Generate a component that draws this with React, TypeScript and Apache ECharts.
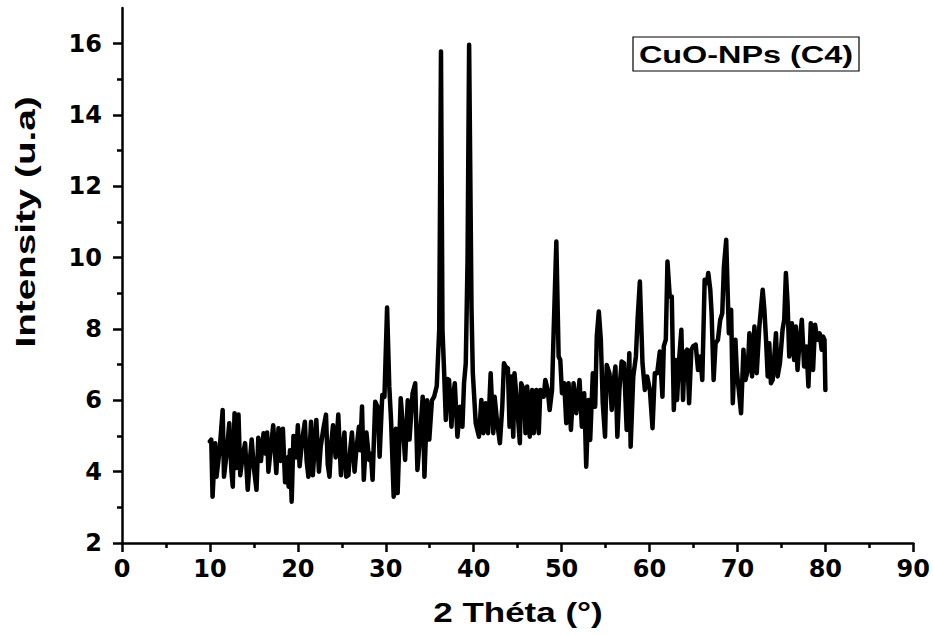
import React, { useEffect, useRef } from "react";
import * as echarts from "echarts";

const twoTheta = [
  10.0, 10.15, 10.3, 10.6, 10.75, 11.1, 11.45, 11.6, 11.9, 12.2, 12.45, 12.6, 12.8, 13.0, 13.25, 13.45, 13.7, 14.0, 14.3, 14.5,
  14.75, 15.0, 15.3, 15.5, 15.8, 16.1, 16.35, 16.5, 16.65, 16.9, 17.2, 17.55, 17.8, 18.0, 18.3, 18.55, 18.8, 18.95, 19.1, 19.3,
  19.5, 19.8, 20.0, 20.2, 20.5, 20.8, 21.0, 21.2, 21.5, 21.7, 21.9, 22.1, 22.4, 22.6, 22.9, 23.2, 23.4, 23.6, 23.8, 24.0,
  24.3, 24.6, 24.9, 25.1, 25.3, 25.5, 25.75, 25.95, 26.15, 26.45, 26.65, 26.95, 27.1, 27.3, 27.5, 27.8, 28.1, 28.3, 28.5, 28.8,
  29.1, 29.3, 29.6, 29.85, 30.15, 30.4, 30.6, 30.9, 31.15, 31.35, 31.7, 32.0, 32.2, 32.5, 32.7, 33.05, 33.35, 33.6, 33.9, 34.2,
  34.4, 34.7, 34.95, 35.25, 35.5, 35.8, 36.08, 36.28, 36.45, 36.64, 36.83, 37.0, 37.2, 37.47, 37.6, 37.85, 38.15, 38.45, 38.72, 38.9,
  39.1, 39.3, 39.48, 39.75, 39.9, 40.23, 40.6, 40.87, 41.1, 41.36, 41.63, 41.93, 42.23, 42.38, 42.68, 42.98, 43.25, 43.44, 43.62, 43.89,
  44.08, 44.27, 44.5, 44.64, 44.87, 45.25, 45.4, 45.7, 45.89, 46.08, 46.38, 46.64, 46.83, 47.13, 47.4, 47.58, 47.96, 48.15, 48.42, 48.64,
  48.91, 49.1, 49.4, 49.66, 49.85, 50.04, 50.3, 50.53, 50.79, 51.06, 51.36, 51.66, 52.04, 52.3, 52.57, 52.8, 53.06, 53.25, 53.55, 53.82,
  54.0, 54.23, 54.46, 54.68, 54.94, 55.13, 55.44, 55.7, 55.89, 56.12, 56.34, 56.57, 56.83, 57.1, 57.4, 57.7, 57.85, 58.15, 58.45, 58.64,
  58.9, 59.2, 59.47, 59.73, 60.04, 60.34, 60.6, 60.87, 61.17, 61.47, 61.62, 61.85, 62.04, 62.3, 62.53, 62.76, 62.98, 63.13, 63.36, 63.62,
  63.81, 64.0, 64.27, 64.5, 64.76, 64.95, 65.25, 65.52, 65.78, 66.0, 66.27, 66.53, 66.68, 66.91, 67.06, 67.29, 67.51, 67.78, 68.04, 68.27,
  68.46, 68.72, 69.02, 69.28, 69.47, 69.77, 69.92, 70.15, 70.41, 70.68, 70.91, 71.17, 71.36, 71.66, 71.93, 72.19, 72.49, 72.87, 73.06, 73.25,
  73.44, 73.62, 73.81, 74.0, 74.38, 74.57, 74.83, 75.13, 75.32, 75.51, 75.7, 75.89, 76.19, 76.45, 76.64, 76.83, 77.02, 77.32, 77.58, 77.85,
  78.07, 78.34, 78.6, 78.83, 79.09, 79.35, 79.58, 79.73, 79.9, 80.0,
];
const intensity = [
  4.85, 4.9, 3.3, 4.8, 3.86, 4.6, 5.73, 3.86, 4.5, 5.36, 4.0, 3.58, 5.64, 4.1, 5.6, 3.9, 4.4, 4.8, 3.49, 4.2,
  4.9, 4.1, 3.49, 4.95, 4.3, 5.08, 4.5, 5.1, 4.0, 4.6, 5.3, 3.96, 5.22, 4.3, 5.2, 3.7, 4.4, 3.58, 4.6, 3.16,
  5.0, 4.4, 5.3, 4.15, 4.9, 5.4, 4.3, 3.86, 5.4, 3.9, 4.6, 5.45, 4.0, 4.7, 5.2, 5.6, 4.2, 3.86, 4.8, 5.3,
  4.4, 5.6, 3.9, 4.6, 5.1, 3.86, 3.9, 4.6, 5.1, 4.0, 4.6, 5.26, 4.6, 5.83, 3.77, 5.1, 4.33, 4.5, 3.77, 5.96,
  5.8, 4.42, 6.15, 6.1, 8.6, 6.39, 5.45, 3.3, 5.2, 3.4, 6.06, 5.1, 4.33, 6.0, 4.9, 6.2, 6.48, 4.05, 5.0, 6.1,
  3.86, 6.0, 4.9, 6.0, 6.1, 6.4, 7.98, 15.78, 7.98, 6.77, 5.45, 6.6, 6.57, 5.26, 6.0, 6.48, 4.98, 5.82, 5.26, 6.48,
  7.04, 9.9, 15.97, 8.6, 6.77, 5.36, 4.98, 6.01, 5.08, 5.92, 5.08, 6.76, 5.08, 6.1, 5.36, 4.8, 5.82, 7.04, 6.95, 6.9,
  5.26, 6.67, 4.98, 6.76, 6.1, 4.8, 6.48, 6.29, 5.08, 6.39, 4.98, 6.29, 5.08, 6.29, 5.08, 6.29, 6.1, 6.57, 6.29, 5.73,
  6.29, 7.98, 10.45, 7.23, 7.13, 6.2, 6.48, 5.36, 6.48, 5.17, 6.48, 5.64, 6.57, 5.26, 6.2, 4.14, 6.01, 4.89, 6.76, 5.82,
  7.79, 8.49, 7.7, 5.92, 4.98, 6.99, 6.76, 5.73, 6.48, 6.95, 4.98, 6.29, 7.09, 7.04, 5.17, 7.32, 4.7, 6.67, 7.23, 8.26,
  9.33, 7.04, 6.29, 6.67, 6.29, 5.22, 6.76, 6.76, 7.37, 6.1, 7.51, 7.7, 9.89, 8.91, 8.91, 5.73, 7.13, 6.01, 7.13, 7.98,
  6.01, 7.32, 7.42, 5.92, 7.42, 7.51, 7.56, 6.85, 7.23, 6.57, 9.38, 9.29, 9.57, 9.1, 8.44, 6.57, 7.6, 7.7, 8.26, 8.44,
  9.75, 10.5, 7.88, 8.54, 5.92, 7.7, 6.85, 6.29, 5.64, 7.42, 6.57, 6.85, 7.88, 6.67, 8.07, 6.76, 8.07, 9.1, 8.54, 7.7,
  6.67, 7.6, 6.48, 6.57, 7.88, 6.67, 7.04, 7.98, 8.26, 9.57, 8.72, 7.23, 8.16, 7.13, 8.07, 6.85, 7.51, 8.26, 6.95, 7.51,
  6.39, 8.16, 6.85, 8.12, 7.7, 7.88, 7.42, 7.79, 7.7, 6.29,
];

const xTicks = [0, 10, 20, 30, 40, 50, 60, 70, 80, 90];
const yMajorTicks = [2, 4, 6, 8, 10, 12, 14, 16];
const yMinorTicks = [3, 5, 7, 9, 11, 13, 15];

const xTitle = "2 Théta (°)";
const yTitle = "Intensity (u.a)";
const sampleLabel = "CuO-NPs (C4)";

export default function App() {
  const ref = useRef<HTMLDivElement>(null);

  useEffect(() => {
    if (!ref.current) return;
    const chart = echarts.init(ref.current, null, { renderer: "svg" });
    const data = twoTheta.map((t, i) => [t, intensity[i]]);
    const labelStyle = {
      color: "#000",
      fontFamily: "DejaVu Sans",
      fontWeight: "bold" as const,
      fontSize: 24,
    };
    chart.setOption({
      animation: false,
      backgroundColor: "#fff",
      grid: { left: 122, right: 15, top: 8, bottom: 92, containLabel: false },
      xAxis: {
        type: "value",
        min: 0,
        max: 90,
        interval: 10,
        splitLine: { show: false },
        axisLine: { lineStyle: { color: "#000", width: 2.5 } },
        axisTick: { show: true, inside: false, length: 9, lineStyle: { color: "#000", width: 2.5 } },
        minorTick: { show: true, splitNumber: 2, length: 5, lineStyle: { color: "#000", width: 2.5 } },
        axisLabel: { ...labelStyle, margin: 14, customValues: xTicks },
      },
      yAxis: [
        {
          type: "value",
          min: 2,
          max: 17,
          interval: 2,
          splitLine: { show: false },
          axisLine: { show: true, onZero: false, lineStyle: { color: "#000", width: 2.5 } },
          axisTick: { show: true, inside: false, length: 9, customValues: yMajorTicks, lineStyle: { color: "#000", width: 2.5 } },
          axisLabel: { ...labelStyle, margin: 20, customValues: yMajorTicks },
        },
        {
          type: "value",
          position: "left",
          min: 2,
          max: 17,
          interval: 2,
          splitLine: { show: false },
          axisLine: { show: false },
          axisTick: { show: true, inside: false, length: 5, customValues: yMinorTicks, lineStyle: { color: "#000", width: 2.5 } },
          axisLabel: { show: false },
        },
      ],
      series: [
        {
          type: "line",
          data,
          showSymbol: false,
          symbol: "none",
          lineStyle: { color: "#000", width: 4.5, join: "round", cap: "round" },
          z: 3,
        },
      ],
      graphic: [
        {
          type: "text",
          x: 518,
          y: 612,
          scaleX: 1.25,
          style: {
            text: xTitle,
            font: "bold 28px 'Liberation Sans', Arial, sans-serif",
            fill: "#000",
            align: "center",
            verticalAlign: "middle",
          },
        },
        {
          type: "text",
          x: 25,
          y: 222,
          rotation: Math.PI / 2,
          scaleX: 1.38,
          style: {
            text: yTitle,
            font: "bold 28px 'Liberation Sans', Arial, sans-serif",
            fill: "#000",
            align: "center",
            verticalAlign: "middle",
          },
        },
        {
          type: "rect",
          shape: { x: 633, y: 37, width: 226, height: 34 },
          style: { fill: "#fff", stroke: "#000", lineWidth: 1.2 },
          z: 10,
        },
        {
          type: "text",
          x: 746,
          y: 55,
          scaleX: 1.35,
          z: 11,
          style: {
            text: sampleLabel,
            font: "bold 24px 'Liberation Sans', Arial, sans-serif",
            fill: "#000",
            align: "center",
            verticalAlign: "middle",
          },
        },
      ],
    });
    return () => chart.dispose();
  }, []);

  return <div ref={ref} style={{ width: 933, height: 635, position: "absolute", left: 0, top: 0 }} />;
}
